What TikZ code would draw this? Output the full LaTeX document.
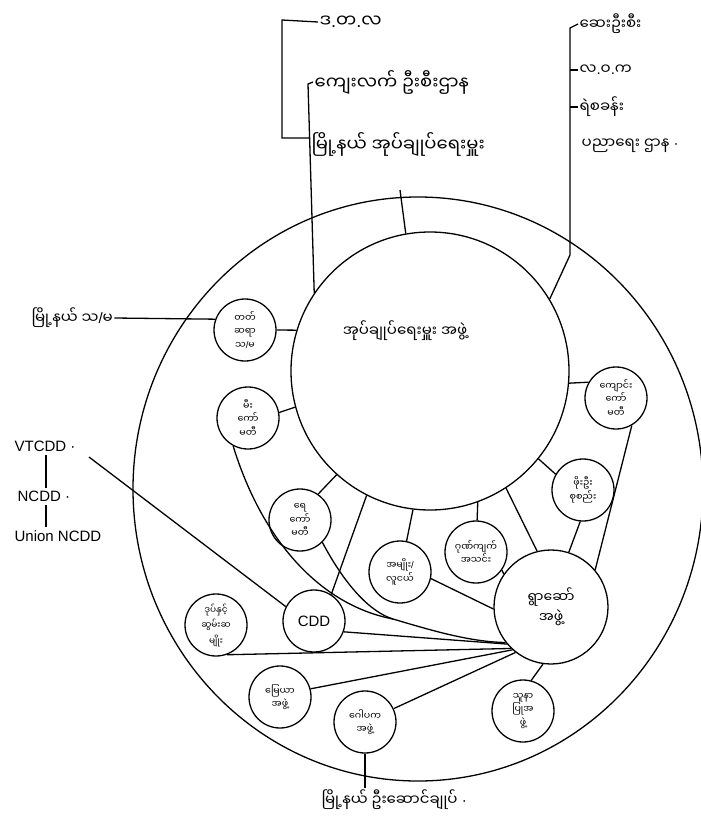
\documentclass[tikz,border=0pt]{standalone}
\usepackage{fontspec}
\setmainfont{Liberation Sans}
\newfontfamily\my[Script=Myanmar]{Noto Sans Myanmar UI}
\newcommand\pd{{\normalfont.}}
\newcommand\slh{{\normalfont/}}
\newcommand\mdot{{\normalfont\ ·}}
\begin{document}
\begin{tikzpicture}[x=1pt,y=-1pt,line width=1.3pt,
  sc/.style={circle,draw,minimum size=62pt,inner sep=0pt,align=center,font=\my\fontsize{9.5}{13.5}\selectfont},
  lbl/.style={inner sep=1pt,font=\my\fontsize{15}{17}\selectfont},
  big/.style={inner sep=1pt,font=\my\fontsize{18}{20}\selectfont},
  lat/.style={inner sep=1pt,font=\fontsize{15}{17}\selectfont}]
\useasboundingbox (0,0) rectangle (701,830);
\fill[white] (0,0) rectangle (701,830);
% outer ring
\draw (418,489) ellipse [x radius=285pt, y radius=292pt];
% central circle
\node[circle,draw,minimum size=278pt,inner sep=0pt] (C) at (430,371) {};
\node[lbl] (Ct) at (405,331) {အုပ်ချုပ်ရေးမှူး အဖွဲ့};
% hub
\node[circle,draw,minimum size=114pt,inner sep=0pt,align=center,font=\my\fontsize{14}{20}\selectfont] (H) at (551,607) {ရွာဆော်\\အဖွဲ့};
% small circles
\node[sc] (s1) at (245,330) {တတ်\\ဆရာ\\သ\slh မ};
\node[sc] (s2) at (248,418) {မီး\\ကော်\\မတီ};
\node[sc] (s3) at (300,520) {ရေ\\ကော်\\မတီ};
\node[sc] (s4) at (400,572) {အမျိုး\slh\\လူငယ်};
\node[sc] (s5) at (476,552) {ဂုဏ်ကျက်\\အသင်း};
\node[sc] (s6) at (583,490) {ဖိုးဦး\\စုစည်း};
\node[sc] (s7) at (616,398) {ကျောင်း\\ကော်\\မတီ};
\node[sc,font=\fontsize{15}{17}\selectfont] (s8) at (314,621) {CDD};
\node[sc,font=\my\fontsize{9}{15.5}\selectfont] (s9) at (216,625) {ဒုပ်နှင့်\\ဆွမ်းဆ\\မျိုး};
\node[sc] (s10) at (280,697) {မြေယာ\\အဖွဲ့};
\node[sc] (s11) at (365,722) {ဂေါပက\\အဖွဲ့};
\node[sc] (s12) at (523,711) {သူနာ\\ပြုအ\\ဖွဲ့};
% links to central circle
\draw (s1.east) -- (C.163);
\draw (s2.10) -- (C.195);
\draw (s3.55) -- (C.228);
\draw (s4.78) -- (C.263);
\draw (s5.88) -- (C.290);
\draw (s6.150) -- (C.321);
\draw (s7.150) -- (C.355);
\draw (C.243) -- (s8.57);
\draw (C.303) -- (H.104);
% links to hub
\draw (s7.300) -- (H.40);
\draw (s6.-95) -- (H.72);
\draw (s5.-35) -- (H.145);
\draw (s4.-12) -- (H.182);
\draw (s8.-20) -- (H.220);
\draw (s9.-70) -- (H.226);
\draw (s10.15) -- (H.228);
\draw (s11.25) -- (H.232);
\draw (s12.75) -- (H.262);
\coordinate (J) at (393,619);
\draw (s2.-118) .. controls (262,540) and (320,605) .. (J);
\draw (s3.-45) .. controls (345,585) and (370,612) .. (J);
\draw (J) .. controls (430,630) and (470,642) .. (H.218);
% top labels, left group
\node[big,anchor=west] (L1) at (318,22) {ဒ\pd တ\pd လ};
\node[big,anchor=west] (L2) at (313,82) {ကျေးလက် ဦးစီးဌာန};
\node[big,anchor=west] (L3) at (310,144) {မြို့နယ် အုပ်ချုပ်ရေးမှူး};
\coordinate (b1) at (282,20);
\coordinate (b2) at (282,138);
\draw (L1.west) -- (b1) -- (b2) -- (L3.west |- b2);
\coordinate (k1) at (308,84);
\draw (L2.west) -- (k1) -- (C.146);
\coordinate (m1) at (400,190);
\draw (m1) -- (C.100);
% top labels, right group
\node[lbl,anchor=west] (R1) at (578,24) {ဆေးဦးစီး};
\node[lbl,anchor=west] (R2) at (578,70) {လ\pd ဝ\pd က};
\node[lbl,anchor=west] (R3) at (578,107) {ရဲစခန်း};
\node[lbl,anchor=west] (R4) at (580,146) {ပညာရေး ဌာန\mdot};
\coordinate (v1) at (570,28);
\coordinate (v2) at (570,255);
\draw (R1.west) -- (v1) -- (v2) -- (C.31);
\draw (R2.west) -- (v1 |- R2.west);
\draw (R3.west) -- (v1 |- R3.west);
% left labels
\node[lbl,anchor=west] (Lsm) at (30,318) {မြို့နယ် သ\slh မ};
\draw (Lsm.east) -- (s1.160);
\node[lat,anchor=west] (VT) at (13,446) {VTCDD\mdot};
\node[lat,anchor=west] (NC) at (16,496) {NCDD\mdot};
\node[lat,anchor=west] (UN) at (13,536) {Union NCDD};
\coordinate (c1) at (46,455);
\coordinate (c2) at (46,488);
\coordinate (c3) at (46,505);
\coordinate (c4) at (46,527);
\draw (c1) -- (c2);
\draw (c3) -- (c4);
\coordinate (vt) at (89,457);
\draw (vt) -- (s8.153);
% bottom label
\node[lbl,anchor=west] (B) at (320,800) {မြို့နယ် ဦးဆောင်ချုပ်\mdot};
\draw (s11.south) -- (s11.south |- B.north);
\end{tikzpicture}
\end{document}
